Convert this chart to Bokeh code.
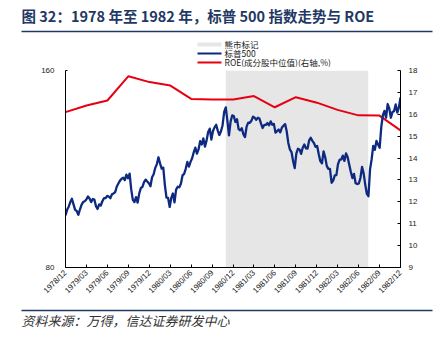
import pandas as pd
from math import pi
from bokeh.plotting import figure
from bokeh.layouts import column
from bokeh.models import (Range1d, LinearAxis, LinearScale, FixedTicker, BasicTickFormatter,
                          DatetimeTickFormatter)
from bokeh.core.properties import value
from bokeh.embed import file_html
from bokeh.resources import INLINE

W, H = 445, 339

title_text = "图 32：1978 年至 1982 年，标普 500 指数走势与 ROE"
source_text = "资料来源：万得，信达证券研发中心"
legend_labels = ["熊市标记", "标普500", "ROE(成分股中位值)(右轴,%)"]

# S&P 500 weekly closes (Fridays)
sp_start = "1978-12-29"
sp_1978 = [96.1]
sp_1979 = [98.0, 99.1, 100.7, 101.9,
           99.9, 98.0, 97.6, 96.3,
           98.1, 99.7, 100.7, 101.0, 101.6,
           102.7, 102.0, 100.7, 101.8,
           101.6, 99.3, 98.3, 99.9,
           99.5, 101.0, 102.1, 102.1, 102.9,
           102.7, 102.1, 103.5, 103.8,
           104.3, 106.4, 107.5, 108.6, 109.3,
           109.7, 108.8, 110.9, 109.5,
           111.3, 105.3, 101.5, 100.7,
           102.5, 100.5, 103.8, 105.8, 106.2,
           108.0, 109.0, 108.3, 107.6]
sp_1980 = [106.5, 109.9, 111.1, 113.6,
           115.1, 117.9, 115.4, 113.3, 113.7,
           106.9, 102.3, 102.2, 99.0,
           102.2, 103.8, 100.6, 105.2,
           106.3, 106.1, 107.4, 110.6, 111.2,
           113.2, 116.0, 114.1, 116.0,
           117.5, 120.0, 122.0, 119.4,
           121.2, 124.8, 123.3, 126.0, 122.4,
           125.0, 128.9, 130.4, 125.5,
           129.3, 131.0, 132.2, 129.5, 127.5,
           129.2, 132.0, 138.3, 140.5,
           134.0, 127.4, 133.7, 136.6]
sp_1981 = [136.3, 133.5, 134.8, 130.2, 129.6,
           130.6, 127.8, 126.6, 131.3,
           133.2, 133.1, 134.1, 136.0,
           135.5, 134.5, 135.5, 135.1,
           132.7, 130.7, 132.1, 132.1, 133.0,
           131.9, 133.8, 132.2, 132.6,
           128.6, 129.3, 130.0, 128.7, 130.9,
           131.7, 132.5, 129.2, 124.0,
           121.2, 120.1, 116.3, 113.5,
           119.4, 121.5, 121.2, 119.3, 121.9,
           123.3, 121.7, 121.6, 125.1,
           126.3, 124.9, 124.0, 122.3]
sp_1982 = [122.7, 119.2, 116.3, 115.4, 120.4,
           118.0, 114.4, 113.2, 113.2,
           107.8, 108.6, 110.6, 110.7,
           115.1, 116.8, 117.0, 118.6, 116.4,
           119.5, 118.0, 114.9, 112.0,
           109.6, 111.2, 107.6, 107.3,
           107.5, 109.6, 114.0, 111.4, 107.1,
           103.7, 102.8, 113.0, 117.1,
           122.7, 121.0, 124.9, 123.3,
           121.9, 131.1, 136.7, 138.8, 135.5,
           142.2, 140.0, 135.5, 138.3,
           138.7, 142.0, 138.0, 140.5, 145.5]
sp_values = sp_1978 + sp_1979 + sp_1980 + sp_1981 + sp_1982
sp_dates = pd.date_range(sp_start, periods=len(sp_values), freq="W-FRI")

# ROE (quarterly, right axis, %)
roe_dates = ["1978-12-29", "1979-03-31", "1979-06-30", "1979-09-30", "1979-12-31",
             "1980-03-31", "1980-06-30", "1980-09-30", "1980-12-31",
             "1981-03-31", "1981-06-30", "1981-09-30", "1981-12-31",
             "1982-03-31", "1982-06-30", "1982-09-30", "1982-12-31"]
roe_values = [16.1, 16.4, 16.63, 17.74, 17.47,
              17.31, 16.70, 16.68, 16.68,
              16.83, 16.32, 16.78, 16.53,
              16.20, 15.95, 15.94, 15.26]

tick_dates = roe_dates
bear_start = "1980-11-28"
bear_end = "1982-08-12"
left_ticks = [80, 160]
right_ticks = [9, 10, 11, 12, 13, 14, 15, 16, 17, 18]

NAVY = "#0d2a80"
RED = "#e60012"
SHADE = "#e6e6e6"
RULE = "#1f3864"
CJK = "Noto Sans CJK SC"
AX_FONT = "Liberation Sans"

TOP_H = 67
BOT_H = 30
MAIN_H = H - TOP_H - BOT_H


def blank(height):
    f = figure(width=W, height=height, output_backend="svg", toolbar_location=None,
               x_range=Range1d(0, W), y_range=Range1d(height, 0),
               x_axis_location=None, y_axis_location=None,
               min_border=0, min_border_left=0, min_border_right=0,
               min_border_top=0, min_border_bottom=0, frame_align=False)
    f.outline_line_color = None
    f.xgrid.visible = False
    f.ygrid.visible = False
    f.background_fill_color = "white"
    f.border_fill_color = "white"
    return f


# ---- header: title, rule, legend ----
top = blank(TOP_H)
top.text(x=[21], y=[14.5], text=[title_text], text_font=value(CJK), text_font_style="bold",
         text_font_size="14.5px", text_color=RULE, text_baseline="middle", text_align="left")
top.segment(x0=[21], x1=[432], y0=[31], y1=[31], line_color=RULE, line_width=1.7)
leg_y = [44, 53, 62]
leg_colors = [SHADE, NAVY, RED]
leg_widths = [4, 2.2, 2]
for yy, cc, ww in zip(leg_y, leg_colors, leg_widths):
    top.segment(x0=[197], x1=[221], y0=[yy], y1=[yy], line_color=cc, line_width=ww)
top.text(x=[224] * 3, y=[v - 0.5 for v in leg_y], text=legend_labels, text_font=value(CJK),
         text_font_size="8.5px", text_color="#1a1a1a", text_baseline="middle", text_align="left")

# ---- main chart ----
x0 = pd.Timestamp("1978-12-29")
x1 = pd.Timestamp("1982-12-31")

p = figure(width=W, height=MAIN_H, output_backend="svg", toolbar_location=None,
           x_axis_type="datetime", y_axis_type="log",
           x_range=Range1d(x0, x1), y_range=Range1d(80, 160),
           min_border_left=65, min_border_right=45, min_border_top=70 - TOP_H,
           min_border_bottom=MAIN_H - (267 - TOP_H), frame_align=False)
p.extra_y_ranges = {"roe": Range1d(9, 18)}
p.extra_y_scales = {"roe": LinearScale()}
p.outline_line_color = None
p.xgrid.visible = False
p.ygrid.visible = False
p.background_fill_color = "white"
p.border_fill_color = "white"

# bear market shading
p.quad(left=[pd.Timestamp(bear_start)], right=[pd.Timestamp(bear_end)],
       bottom=[left_ticks[0]], top=[left_ticks[1]], fill_color=SHADE, line_color=None)
p.line(x=pd.to_datetime(roe_dates), y=roe_values, y_range_name="roe", line_width=2, color=RED)
p.line(x=sp_dates, y=sp_values, line_width=2.3, color=NAVY, line_join="round")

# x axis
xa = p.xaxis[0]
xa.ticker = FixedTicker(ticks=[pd.Timestamp(d).value / 1e6 for d in tick_dates])
xa.formatter = DatetimeTickFormatter(days="%Y/%m", months="%Y/%m", years="%Y/%m")
xa.major_label_orientation = pi / 4
xa.major_tick_in = 3
xa.major_tick_out = 0
xa.minor_tick_line_color = None
xa.axis_line_color = "black"
xa.major_tick_line_color = "black"
xa.major_label_text_font = AX_FONT
xa.major_label_text_font_size = "8px"
xa.major_label_text_color = "#1a1a1a"
xa.major_label_standoff = 4

# left axis (log)
ya = p.yaxis[0]
ya.ticker = FixedTicker(ticks=left_ticks)
ya.formatter = BasicTickFormatter()
ya.major_tick_in = 2
ya.major_tick_out = 0
ya.minor_tick_line_color = None
ya.axis_line_color = "black"
ya.major_label_text_font = AX_FONT
ya.major_label_text_font_size = "8px"
ya.major_label_text_color = "#1a1a1a"
ya.major_label_standoff = 11

# right axis (ROE)
ra = LinearAxis(y_range_name="roe", ticker=FixedTicker(ticks=right_ticks))
ra.major_tick_in = 3
ra.major_tick_out = 0
ra.minor_tick_line_color = None
ra.axis_line_color = "black"
ra.major_label_text_font = AX_FONT
ra.major_label_text_font_size = "8px"
ra.major_label_text_color = "#1a1a1a"
ra.major_label_standoff = 8
p.add_layout(ra, "right")

# ---- footer: rule, source ----
bot = blank(BOT_H)
bot.segment(x0=[21], x1=[432], y0=[0.9], y1=[0.9], line_color=RULE, line_width=1.7)
bot.text(x=[21], y=[11], text=[source_text], text_font=value(CJK), text_font_style="italic",
         text_font_size="13px", text_color="#333333", text_baseline="middle", text_align="left")

layout = column(top, p, bot, spacing=0)
open("out.html", "w").write(file_html(layout, INLINE))
